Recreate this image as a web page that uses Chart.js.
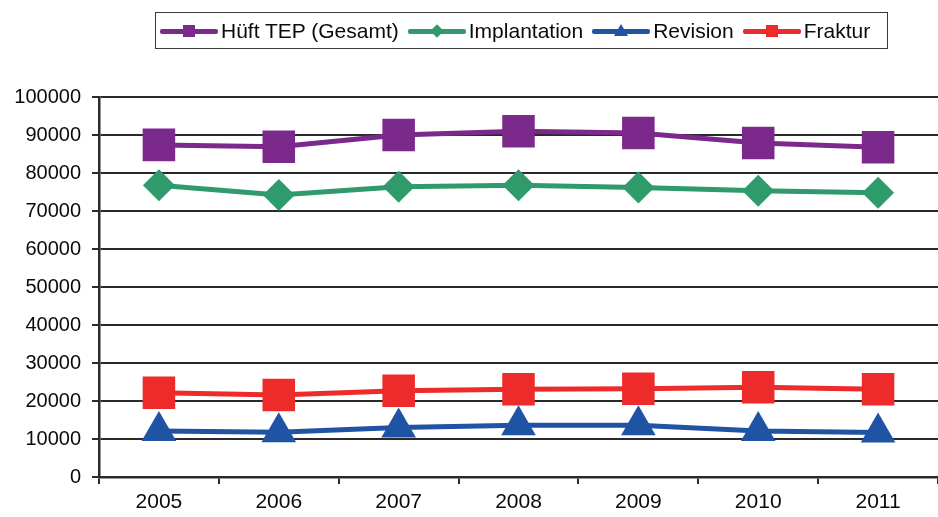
<!DOCTYPE html>
<html lang="de">
<head>
  <meta charset="UTF-8">
  <title>Hüft TEP</title>
  <script src="https://cdn.jsdelivr.net/npm/chart.js"></script>
  <style>
    html, body { margin: 0; padding: 0; background: #fff; }
    body { width: 938px; height: 517px; position: relative; overflow: hidden; font-family: "Liberation Sans", Arial, sans-serif; }
    #wrap { position: absolute; left: 0; top: 0; width: 938px; height: 517px; }
    .legend {
      position: absolute; left: 155px; top: 12px; width: 733px; height: 37px;
      border: 1.5px solid #3a3a3a; box-sizing: border-box;
      display: flex; align-items: center; padding-left: 4px;
      font-size: 21px; color: #0a0a0a; white-space: nowrap;
    }
    .item { display: flex; align-items: center; margin-right: 9px; }
    .sw { position: relative; width: 58px; height: 16px; margin-right: 3px; }
    .sw .ln { position: absolute; left: 0; right: 0; top: 6px; height: 5px; border-radius: 2px; }
    .sw .mk { position: absolute; left: 23px; top: 2px; width: 12px; height: 12px; }
    .mk.dia { transform: rotate(45deg) scale(0.8); }
    .mk.tri { width: 0; height: 0; background: none !important; left: 22px; top: 1px;
      border-left: 7px solid transparent; border-right: 7px solid transparent; border-bottom: 12px solid; }
  </style>
</head>
<body>
  <div id="wrap"><canvas id="chart"></canvas></div>
  <div class="legend" id="legend"></div>

  <script>
    const years = ['2005', '2006', '2007', '2008', '2009', '2010', '2011'];
    const hueftTep = [87400, 86900, 90000, 91000, 90500, 87900, 86800];
    const implantation = [76800, 74200, 76400, 76800, 76200, 75300, 74800];
    const revision = [12100, 11800, 13000, 13600, 13600, 12100, 11700];
    const fraktur = [22200, 21600, 22700, 23100, 23200, 23600, 23100];
    const yTicks = [0, 10000, 20000, 30000, 40000, 50000, 60000, 70000, 80000, 90000, 100000];

    const series = [
      { label: 'Hüft TEP (Gesamt)', data: hueftTep, color: '#7b2a8b', style: 'rect', radius: 23, mk: 'sq' },
      { label: 'Implantation', data: implantation, color: '#2f9a6c', style: 'rectRot', radius: 16, mk: 'dia' },
      { label: 'Revision', data: revision, color: '#1f53a4', style: 'triangle', radius: 20, mk: 'tri' },
      { label: 'Fraktur', data: fraktur, color: '#ee2b2b', style: 'rect', radius: 23, mk: 'sq' }
    ];

    // legend in html, line + marker like the original
    const legend = document.getElementById('legend');
    series.forEach(s => {
      const it = document.createElement('div');
      it.className = 'item';
      const mkStyle = s.mk === 'tri' ? `border-bottom-color:${s.color}` : `background:${s.color}`;
      it.innerHTML = `<span class="sw"><span class="ln" style="background:${s.color}"></span>` +
        `<span class="mk ${s.mk}" style="${mkStyle}"></span></span><span>${s.label}</span>`;
      legend.appendChild(it);
    });

    const gridColor = '#2a2a2a';
    const font = { family: '"Liberation Sans", Arial, sans-serif', size: 20 };

    new Chart(document.getElementById('chart'), {
      type: 'line',
      data: {
        labels: years,
        datasets: series.map(s => ({
          label: s.label,
          data: s.data,
          borderColor: s.color,
          backgroundColor: s.color,
          borderWidth: 5,
          pointStyle: s.style,
          pointRadius: s.radius,
          pointHoverRadius: s.radius,
          pointBorderWidth: 0,
          tension: 0
        }))
      },
      options: {
        responsive: true,
        maintainAspectRatio: false,
        animation: false,
        // original plot runs a little past the right edge of the picture
        layout: { autoPadding: false, padding: { top: 97, right: -3, left: 0, bottom: 0 } },
        plugins: { legend: { display: false }, tooltip: { enabled: false } },
        scales: {
          x: {
            offset: true,
            grid: { offset: true, drawOnChartArea: false, drawTicks: true, tickLength: 7, color: gridColor, lineWidth: 2 },
            border: { color: gridColor, width: 2.5 },
            ticks: { color: '#0a0a0a', font: { ...font, size: 21 }, padding: 6 },
            afterFit: scale => { scale.height = 40; }
          },
          y: {
            min: 0,
            max: 100000,
            afterBuildTicks: scale => { scale.ticks = yTicks.map(v => ({ value: v })); },
            grid: { color: gridColor, lineWidth: 2, tickLength: 7 },
            border: { color: gridColor, width: 2.5 },
            ticks: { color: '#0a0a0a', font: font, padding: 11, callback: v => String(v) },
            afterFit: scale => { scale.width = 99; }
          }
        }
      }
    });
  </script>
</body>
</html>
